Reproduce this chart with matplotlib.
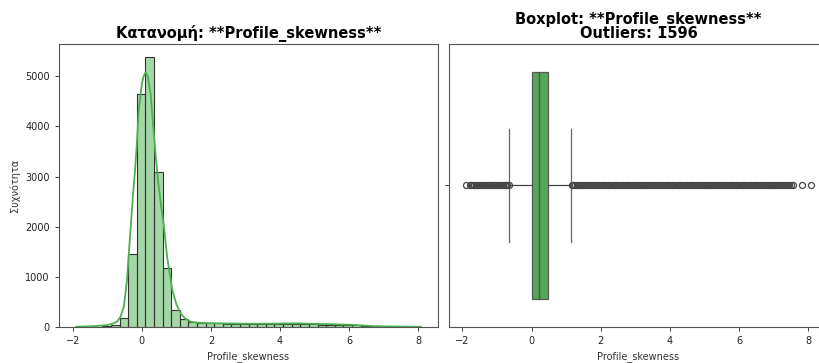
import matplotlib
matplotlib.use("Agg")
import matplotlib.pyplot as plt
import numpy as np

feature = "Profile_skewness"
outlier_count = 1596

# histogram: 40 equal bins between the data min and max
hist_min = -1.89
hist_max = 8.07
hist_counts = [3, 4, 6, 10, 30, 173, 1456, 4635, 5373, 3085,
               1183, 339, 150, 105, 85, 78, 72, 68, 62, 58,
               55, 52, 50, 52, 55, 52, 55, 50, 48, 45,
               40, 38, 30, 18, 10, 6, 4, 3, 2, 2]

# kde curve
kde_x = [-1.9, -1.5, -1.2, -1.0, -0.85, -0.72, -0.62, -0.52, -0.43, -0.35,
         -0.25, -0.2, -0.15, -0.09, 0.0, 0.05, 0.11, 0.17, 0.25, 0.33,
         0.41, 0.47, 0.54, 0.64, 0.73, 0.88, 1.0, 1.12, 1.25, 1.41,
         1.6, 2.0, 2.5, 3.0, 3.5, 4.0, 4.5, 5.0, 5.5, 6.0,
         6.3, 6.7, 7.0, 7.5, 8.07]
kde_y = [5, 12, 25, 40, 65, 106, 200, 405, 938, 1737,
         2700, 3100, 3600, 4331, 4850, 5000, 5076, 5000, 4665, 3998,
         3333, 2900, 2500, 2000, 1403, 739, 450, 273, 170, 106,
         85, 75, 70, 65, 65, 68, 72, 62, 55, 45,
         34, 18, 12, 8, 3]

# boxplot statistics
q1, median, q3 = 0.02, 0.22, 0.48
whisker_lo, whisker_hi = -0.64, 1.15
fliers_low = [-1.89, -1.78, -1.74, -1.70, -1.66, -1.62, -1.58, -1.54, -1.50, -1.46,
              -1.42, -1.38, -1.34, -1.30, -1.26, -1.22, -1.18, -1.14, -1.10, -1.06,
              -1.02, -0.98, -0.94, -0.90, -0.86, -0.82, -0.78, -0.74, -0.70, -0.66]
fliers_high = [1.16, 1.20, 1.25, 1.30, 1.35, 1.40, 1.45, 1.50, 1.55, 1.60,
               1.65, 1.70, 1.75, 1.80, 1.85, 1.90, 1.95, 2.00, 2.05, 2.10,
               2.15, 2.20, 2.25, 2.30, 2.35, 2.40, 2.45, 2.50, 2.55, 2.60,
               2.65, 2.70, 2.75, 2.80, 2.85, 2.90, 2.95, 3.00, 3.05, 3.10,
               3.15, 3.20, 3.25, 3.30, 3.35, 3.40, 3.45, 3.50, 3.55, 3.60,
               3.65, 3.70, 3.75, 3.80, 3.85, 3.90, 3.95, 4.00, 4.05, 4.10,
               4.15, 4.20, 4.25, 4.30, 4.35, 4.40, 4.45, 4.50, 4.55, 4.60,
               4.65, 4.70, 4.75, 4.80, 4.85, 4.90, 4.95, 5.00, 5.05, 5.10,
               5.15, 5.20, 5.25, 5.30, 5.35, 5.40, 5.45, 5.50, 5.55, 5.60,
               5.65, 5.70, 5.75, 5.80, 5.85, 5.90, 5.95, 6.00, 6.05, 6.10,
               6.15, 6.20, 6.25, 6.30, 6.35, 6.40, 6.45, 6.50, 6.55, 6.60,
               6.65, 6.70, 6.75, 6.80, 6.85, 6.90, 6.95, 7.00, 7.05, 7.10,
               7.15, 7.20, 7.25, 7.30, 7.35, 7.40, 7.45, 7.50, 7.55, 7.82,
               8.07]

GREEN = "#4CAF50"
BOX_GREEN = "#56a657"
LINE_GRAY = "#454545"
TEXT = "#222222"

fig = plt.figure(figsize=(8.19, 3.63), dpi=100)
ax1 = fig.add_axes([0.072, 0.0992, 0.4628, 0.7796])
ax2 = fig.add_axes([0.5482, 0.0992, 0.4628, 0.7796])

# left: histogram + kde
edges = np.linspace(hist_min, hist_max, len(hist_counts) + 1)
centers = (edges[:-1] + edges[1:]) / 2
ax1.hist(centers, bins=edges, weights=hist_counts, color=GREEN, alpha=0.5,
         edgecolor="none")
ax1.hist(centers, bins=edges, weights=hist_counts, histtype="bar",
         facecolor="none", edgecolor="#333333", linewidth=0.8)
ax1.plot(kde_x, kde_y, color=GREEN, linewidth=1.3)
ax1.set_title(f"Κατανομή: **{feature}**", fontsize=10.5, fontweight="bold",
              pad=4.5, color="black")
ax1.set_xlabel(feature, fontsize=7, color="#333333")
ax1.set_ylabel("Συχνότητα", fontsize=7, color="#333333")
ax1.set_xticks([-2, 0, 2, 4, 6, 8])
ax1.set_yticks([0, 1000, 2000, 3000, 4000, 5000])
ax1.tick_params(labelsize=7, length=3, width=0.6, colors=TEXT)

# right: boxplot
stats = [dict(med=median, q1=q1, q3=q3, whislo=whisker_lo, whishi=whisker_hi,
              fliers=fliers_low + fliers_high, label="")]
ax2.bxp(stats, positions=[0], widths=0.8, vert=False, patch_artist=True,
        capwidths=0.4,
        boxprops=dict(facecolor=BOX_GREEN, edgecolor="#5a5a5a", linewidth=0.9),
        medianprops=dict(color="#3d5f3d", linewidth=1.0),
        whiskerprops=dict(color=LINE_GRAY, linewidth=0.9),
        capprops=dict(color="#666666", linewidth=0.9),
        flierprops=dict(marker="o", markerfacecolor="none",
                        markeredgecolor=LINE_GRAY, markersize=4.3,
                        markeredgewidth=0.9))
ax2.set_ylim(0.5, -0.5)
ax2.set_yticks([0])
ax2.set_yticklabels([""])
ax2.set_xlim(-2.388, 8.568)
ax2.set_xticks([-2, 0, 2, 4, 6, 8])
ax2.set_title(f"Boxplot: **{feature}**\nOutliers: {outlier_count}",
              fontsize=10.5, fontweight="bold", pad=4.5, linespacing=0.85,
              color="black")
ax2.set_xlabel(feature, fontsize=7, color="#333333")
ax2.tick_params(labelsize=7, length=3, width=0.6, colors=TEXT)

for ax in (ax1, ax2):
    for s in ax.spines.values():
        s.set_color("#555555")
        s.set_linewidth(0.8)

fig.savefig("out.png", dpi=100)
